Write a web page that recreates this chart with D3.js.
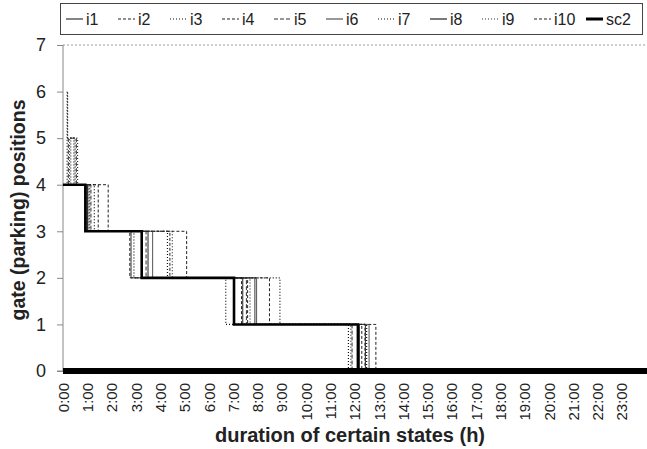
<!DOCTYPE html>
<html><head><meta charset="utf-8">
<script src="https://cdn.jsdelivr.net/npm/d3@7"></script>
<style>body{margin:0;background:#fff}svg{display:block}text{font-family:"Liberation Sans",Arial,sans-serif}</style>
</head><body>
<svg id="c" width="647" height="449"></svg>
<script>
// step series: [hour, positions] (value holds until the next point)
const i1  = [[0,4],[1.00,3],[2.80,2],[7.90,1],[12.45,0],[24,0]];
const i2  = [[0,4],[1.45,3],[4.40,2],[7.60,1],[12.30,0],[24,0]];
const i3  = [[0,4],[0.17,6],[0.19,5],[0.45,4],[1.07,3],[2.92,2],[6.70,1],[11.75,0],[24,0]];
const i4  = [[0,4],[1.86,3],[5.09,2],[8.50,1],[12.88,0],[24,0]];
const i5  = [[0,4],[0.22,5],[0.55,4],[1.15,3],[3.42,2],[7.55,1],[11.90,0],[24,0]];
const i6  = [[0,4],[0.98,3],[3.69,2],[7.97,1],[12.60,0],[24,0]];
const i7  = [[0,4],[0.27,5],[0.50,4],[1.29,3],[4.30,2],[8.93,1],[12.50,0],[24,0]];
const i8  = [[0,4],[1.02,3],[3.50,2],[7.40,1],[12.20,0],[24,0]];
const i9  = [[0,4],[0.32,5],[0.60,4],[1.10,3],[4.50,2],[7.70,1],[11.85,0],[24,0]];
const i10 = [[0,4],[0.95,3],[2.75,2],[7.35,1],[12.43,0],[24,0]];
const sc2 = [[0,4],[0.92,3],[3.24,2],[7.04,1],[12.14,0],[24,0]];

const seriesNames = ["i1","i2","i3","i4","i5","i6","i7","i8","i9","i10","sc2"];
const seriesData = [i1,i2,i3,i4,i5,i6,i7,i8,i9,i10,sc2];
const seriesDash = ["", "3,2", "1,2", "3,2", "4,2", "", "1,2", "", "1,2", "3,2", ""];
const seriesWidth = [1,1,1.2,1,1,1,1.2,1,1.2,1,2.6];
const seriesColor = ["#333","#222","#111","#222","#333","#555","#111","#222","#333","#222","#000"];
const xTickLabels = d3.range(0,24).map(h => h + ":00");
const yTicks = [0,1,2,3,4,5,6,7];

const svg = d3.select("#c");
const x = d3.scaleLinear().domain([0,24]).range([63,646]);
const y = d3.scaleLinear().domain([0,7]).range([371,45]);

// top dotted line at 7
svg.append("line").attr("x1",x(0)).attr("x2",647).attr("y1",y(7)).attr("y2",y(7))
  .attr("stroke","#999").attr("stroke-dasharray","2,2");

// y axis
const ya = svg.append("g").attr("transform",`translate(${x(0)},0)`)
  .call(d3.axisLeft(y).tickValues(yTicks).tickSize(6).tickPadding(11).tickFormat(d3.format("d")));
ya.select(".domain").attr("stroke","#888").attr("d",`M0,${y(7)}V${y(0)}`);
ya.selectAll(".tick line").attr("stroke","#888");
ya.selectAll("text").attr("font-size","18px").attr("fill","#222").style("font-family","Liberation Sans, Arial");

// series
const line = d3.line().x(d=>x(d[0])).y(d=>y(d[1])).curve(d3.curveStepAfter);
seriesData.forEach((s,k)=>{
  svg.append("path").datum(s).attr("d",line).attr("fill","none")
    .attr("stroke",seriesColor[k]).attr("stroke-width",seriesWidth[k])
    .attr("stroke-dasharray",seriesDash[k]||null);
});

// x axis (thick baseline)
const xa = svg.append("g").attr("transform",`translate(0,${y(0)})`)
  .call(d3.axisBottom(x).tickValues(d3.range(0,24)).tickSize(0).tickFormat(d=>xTickLabels[d]));
xa.select(".domain").remove();
svg.append("line").attr("x1",57).attr("x2",x(0)).attr("y1",y(0)).attr("y2",y(0)).attr("stroke","#888");
svg.append("line").attr("x1",x(0)).attr("x2",647).attr("y1",y(0)).attr("y2",y(0))
  .attr("stroke","#000").attr("stroke-width",6);
xa.selectAll("text").attr("font-size","15px").attr("fill","#222")
  .attr("text-anchor","end").attr("transform","rotate(-90)")
  .attr("x",-12).attr("y",0).attr("dy","0.35em");

// axis titles
svg.append("text").attr("x",350).attr("y",442).attr("text-anchor","middle")
  .attr("font-size","20px").attr("font-weight","bold").attr("fill","#222")
  .text("duration of certain states (h)");
svg.append("text").attr("transform",`translate(25,${(y(0)+y(7))/2+2}) rotate(-90)`)
  .attr("text-anchor","middle").attr("font-size","19.5px").attr("font-weight","bold").attr("fill","#222")
  .text("gate (parking) positions");

// legend
svg.append("rect").attr("x",60.5).attr("y",3.5).attr("width",582).attr("height",31)
  .attr("fill","#fff").attr("stroke","#444");
const lg = svg.append("g");
seriesNames.forEach((n,k)=>{
  const lx = 66 + k*52;
  lg.append("line").attr("x1",lx).attr("x2",lx+17).attr("y1",19).attr("y2",19)
    .attr("stroke",seriesColor[k]).attr("stroke-width",k===10?3:1.2)
    .attr("stroke-dasharray",seriesDash[k]||null);
  lg.append("text").attr("x",lx+20).attr("y",25).attr("font-size","16px").attr("fill","#222").text(n);
});
</script>
</body></html>
